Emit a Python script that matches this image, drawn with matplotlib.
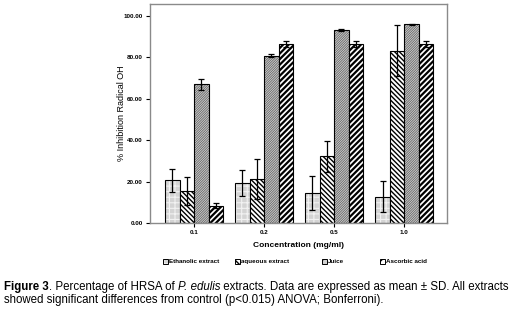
import numpy as np
import matplotlib
matplotlib.use("Agg")
import matplotlib.pyplot as plt
from matplotlib.patches import Rectangle

plt.rcParams['font.family'] = ['Liberation Sans', 'DejaVu Sans']

# data
concentrations = ["0.1", "0.2", "0.5", "1.0"]
series = ["Ethanolic extract", "aqueous extract", "Juice", "Ascorbic acid"]
means = {
    "Ethanolic extract": [20.5, 19.3, 14.7, 12.7],
    "aqueous extract": [15.5, 21.4, 32.2, 83.1],
    "Juice": [66.8, 80.7, 92.9, 95.8],
    "Ascorbic acid": [8.4, 86.2, 86.2, 86.2],
}
sds = {
    "Ethanolic extract": [5.5, 6.4, 8.2, 7.6],
    "aqueous extract": [6.7, 9.7, 7.4, 12.2],
    "Juice": [2.7, 0.6, 0.5, 0.3],
    "Ascorbic acid": [1.3, 1.4, 1.4, 1.4],
}

# face colour, hatch, hatch colour, hatch width
styles = {
    "Ethanolic extract": ("#d4d4d4", "+++", "#f2f2f2", 0.8),
    "aqueous extract": ("white", "\\" * 7, "black", 1.0),
    "Juice": ("#d0d0d0", "/" * 14, "#666666", 0.6),
    "Ascorbic acid": ("white", "/" * 6, "black", 1.6),
}

fig = plt.figure(figsize=(5.15, 3.10), dpi=100)
ax = fig.add_axes([150/515, 1-223/310, 297/515, 219/310])

x = np.arange(len(concentrations))
w = 0.207
for i, s in enumerate(series):
    fc, h, hc, hw = styles[s]
    pos = x + (i - 1.5) * w
    with plt.rc_context({'hatch.linewidth': hw}):
        ax.bar(pos, means[s], w, color=fc, edgecolor=hc, hatch=h, linewidth=0)
    ax.bar(pos, means[s], w, fill=False, edgecolor="black", linewidth=0.8)
    ax.errorbar(pos, means[s], yerr=sds[s], fmt="none", ecolor="black",
                elinewidth=0.9, capsize=2, capthick=0.9)

ax.set_xlim(-0.63, 3.61)
ax.set_ylim(0, 105.6)
ax.set_yticks([0, 20, 40, 60, 80, 100])
ax.set_yticklabels(["0.00", "20.00", "40.00", "60.00", "80.00", "100.00"],
                   fontsize=4.5, fontweight="bold")
ax.set_xticks(x)
ax.set_xticklabels(concentrations, fontsize=4.5, fontweight="bold")
ax.tick_params(length=3, width=0.8, pad=2)
for sp in ax.spines.values():
    sp.set_color("#8a8a8a")
    sp.set_linewidth(1)

ax.set_xlabel("Concentration (mg/ml)", fontsize=6, fontweight="bold", labelpad=5)
ax.set_ylabel("% Inhibition Radical OH", fontsize=6.5)
ax.yaxis.set_label_coords(-0.081, 0.502)

# legend row
leg_x = [163, 235, 322, 380]
for s, lx in zip(series, leg_x):
    fc, h, hc, hw = styles[s]
    bx, by, bs = lx/515, 1-264/310, 5/310
    with plt.rc_context({'hatch.linewidth': min(hw, 1.0)}):
        fig.add_artist(Rectangle((bx, by), 5/515, bs, transform=fig.transFigure,
                                 facecolor=fc, edgecolor=hc, hatch=h[:4], linewidth=0))
    fig.add_artist(Rectangle((bx, by), 5/515, bs, transform=fig.transFigure,
                             fill=False, edgecolor="black", linewidth=0.7))
    fig.text(bx + 6/515, by + bs/2, s, fontsize=4.5, fontweight="bold", va="center")

# caption
cap_size = 8.3
t = fig.text(4/515, 1-287/310, "Figure 3", fontsize=cap_size, fontweight="bold",
             va="center")
for txt, style in [(". Percentage of HRSA of ", "normal"), ("P. edulis", "italic"),
                   (" extracts. Data are expressed as mean \u00b1 SD. All extracts", "normal")]:
    t = ax.annotate(txt, xy=(1, 0), xycoords=t, va="bottom", ha="left",
                    fontsize=cap_size, fontstyle=style, annotation_clip=False)
fig.text(4/515, 1-300/310,
         "showed significant differences from control (p<0.015) ANOVA; Bonferroni).",
         fontsize=cap_size, va="center")

fig.savefig("out.png", dpi=100)
